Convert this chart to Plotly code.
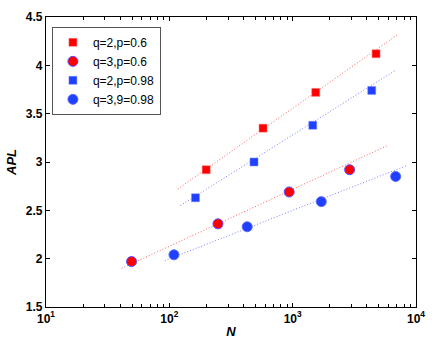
import plotly.graph_objects as go

# ---- data ----
series_names = ["q=2,p=0.6", "q=3,p=0.6", "q=2,p=0.98", "q=3,9=0.98"]

n_q2_p06 = [199, 575, 1538, 4745]
apl_q2_p06 = [2.92, 3.35, 3.72, 4.12]

n_q3_p06 = [49.4, 248, 937, 2897]
apl_q3_p06 = [1.97, 2.36, 2.69, 2.92]

n_q2_p098 = [163, 486, 1455, 4375]
apl_q2_p098 = [2.63, 3.00, 3.38, 3.74]

n_q3_p098 = [109, 428, 1706, 6840]
apl_q3_p098 = [2.04, 2.33, 2.59, 2.85]

# fitted (dotted) lines: endpoints
fit_n_q2_p06 = [117, 7130]
fit_apl_q2_p06 = [2.72, 4.32]
fit_n_q3_p06 = [41, 5860]
fit_apl_q3_p06 = [1.90, 3.17]
fit_n_q2_p098 = [123, 6840]
fit_apl_q2_p098 = [2.55, 3.95]
fit_n_q3_p098 = [92, 8300]
fit_apl_q3_p098 = [1.98, 2.96]

x_tickvals = [10, 100, 1000, 10000]
x_ticktext = ["10<sup>1</sup>", "10<sup>2</sup>", "10<sup>3</sup>", "10<sup>4</sup>"]
x_minor_tickvals = [m * d for d in (10, 100, 1000) for m in range(2, 10)]
y_tickvals = [1.5, 2, 2.5, 3, 3.5, 4, 4.5]
y_ticktext = ["1.5", "2", "2.5", "3", "3.5", "4", "4.5"]

RED = "#ff0000"
BLUE = "#1f40ff"
RED_FIT = "rgba(255,70,70,0.85)"
BLUE_FIT = "rgba(80,100,255,0.8)"
FONT = "Liberation Sans, Arial, Helvetica, sans-serif"

fig = go.Figure()

# fit lines
for fx, fy, c in [(fit_n_q2_p06, fit_apl_q2_p06, RED_FIT),
                  (fit_n_q3_p06, fit_apl_q3_p06, RED_FIT),
                  (fit_n_q2_p098, fit_apl_q2_p098, BLUE_FIT),
                  (fit_n_q3_p098, fit_apl_q3_p098, BLUE_FIT)]:
    fig.add_trace(go.Scatter(x=fx, y=fy, mode="lines", showlegend=False,
                             line=dict(color=c, width=1, dash="1px,2px"),
                             hoverinfo="skip"))

fig.add_trace(go.Scatter(x=n_q2_p06, y=apl_q2_p06, mode="markers", name=series_names[0],
                         marker=dict(symbol="square", size=8, color=RED,
                                     line=dict(width=0.5, color="rgba(255,120,120,1)"))))
fig.add_trace(go.Scatter(x=n_q3_p06, y=apl_q3_p06, mode="markers", name=series_names[1],
                         marker=dict(symbol="circle", size=10, color=RED,
                                     line=dict(width=1, color="#5a50ff"))))
fig.add_trace(go.Scatter(x=n_q2_p098, y=apl_q2_p098, mode="markers", name=series_names[2],
                         marker=dict(symbol="square", size=8, color=BLUE,
                                     line=dict(width=0.5, color="rgba(120,140,255,1)"))))
fig.add_trace(go.Scatter(x=n_q3_p098, y=apl_q3_p098, mode="markers", name=series_names[3],
                         marker=dict(symbol="circle", size=10, color=BLUE,
                                     line=dict(width=1, color="#5a6aff"))))

fig.update_layout(
    width=436, height=347,
    margin=dict(l=44.5, r=13.5, t=10.5, b=39, pad=0),
    paper_bgcolor="white", plot_bgcolor="white",
    font=dict(family=FONT, size=11, color="black"),
    showlegend=True,
    legend=dict(x=0.016, y=0.966, xanchor="left", yanchor="top",
                bgcolor="white", bordercolor="#555555", borderwidth=1,
                font=dict(size=12, family=FONT), tracegroupgap=0,
                itemwidth=30),
    xaxis=dict(type="log", range=[1, 4], tickmode="array", tickvals=x_tickvals, ticktext=x_ticktext,
               ticks="inside", ticklen=4, tickcolor="black", tickwidth=1,
               showline=True, linecolor="black", linewidth=1.2, mirror="allticks",
               showgrid=False, zeroline=False,
               minor=dict(tickmode="array", tickvals=x_minor_tickvals, ticks="inside",
                          ticklen=2.5, tickcolor="black", showgrid=False),
               tickfont=dict(size=12, family=FONT, weight="bold"),
               title=dict(text="N", font=dict(size=13, family=FONT, weight="bold", style="italic"),
                          standoff=2)),
    yaxis=dict(range=[1.5, 4.5], tickmode="array", tickvals=y_tickvals, ticktext=y_ticktext,
               ticks="inside", ticklen=4, tickcolor="black", tickwidth=1,
               showline=True, linecolor="black", linewidth=1.2, mirror="allticks",
               showgrid=False, zeroline=False,
               tickfont=dict(size=12, family=FONT, weight="bold"),
               title=dict(text="APL", font=dict(size=13, family=FONT, weight="bold", style="italic"),
                          standoff=6)),
)

fig.write_html("out.html", config={"displayModeBar": False},
               post_script="document.body.style.margin='0';")
